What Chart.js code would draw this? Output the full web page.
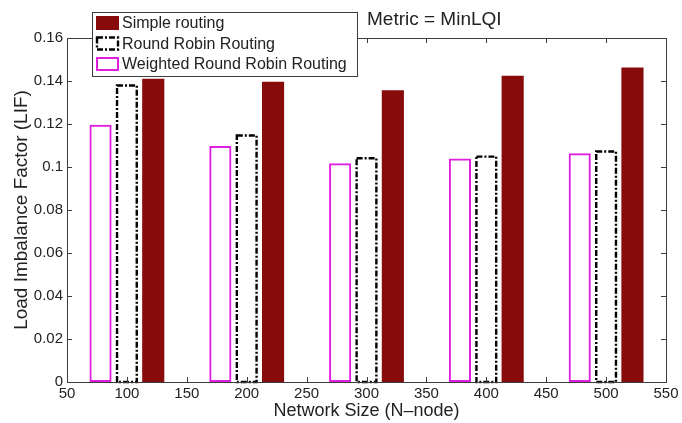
<!DOCTYPE html>
<html>
<head>
<meta charset="utf-8">
<script src="https://cdn.jsdelivr.net/npm/chart.js@4.4.0/dist/chart.umd.min.js"></script>
<style>
  html, body { margin: 0; padding: 0; background: #fff; }
</style>
</head>
<body>
<canvas id="lifChart" width="682" height="423"></canvas>
<script>
// load imbalance factor per network size, one array per routing scheme
const networkSizes = [100, 200, 300, 400, 500];
const simpleRouting = [0.141, 0.1396, 0.1357, 0.1424, 0.1463];
const roundRobin = [0.1385, 0.1152, 0.1046, 0.1054, 0.1078];
const weightedRoundRobin = [0.1196, 0.1098, 0.1018, 0.104, 0.1064];
const seriesNames = ['Simple routing', 'Round Robin Routing', 'Weighted Round Robin Routing'];
const xTicks = [50, 100, 150, 200, 250, 300, 350, 400, 450, 500, 550];
const yTicks = [0, 0.02, 0.04, 0.06, 0.08, 0.1, 0.12, 0.14, 0.16];

const barShift = 22; // x units between bars inside one group
const FONT = "'Liberation Sans', Arial, sans-serif";
const TEXT = '#222';
const AXIS = '#3c3c3c';
const DARK_RED = '#870b0b';
const MAGENTA = '#e01ee0';
const DASH_DOT = [6, 2, 2, 2];

function points(values, shift) {
  return networkSizes.map((n, i) => ({ x: n + shift, y: values[i] }));
}

// chart.js bars can't dash their border, so the round robin outlines are stroked here
const dashedBars = {
  id: 'dashedBars',
  afterDatasetsDraw(chart) {
    const ctx = chart.ctx;
    const meta = chart.getDatasetMeta(1);
    ctx.save();
    ctx.strokeStyle = '#000';
    ctx.lineWidth = 2.4;
    ctx.setLineDash(DASH_DOT);
    meta.data.forEach(bar => {
      const p = bar.getProps(['x', 'y', 'base', 'width'], true);
      const lw = 1.2;
      ctx.strokeRect(p.x - p.width / 2 + lw, p.y + lw, p.width - 2 * lw, p.base - p.y - lw);
    });
    ctx.restore();
  }
};

// box round the plot with inward ticks on all four sides
const axesBox = {
  id: 'axesBox',
  afterDraw(chart) {
    const ctx = chart.ctx;
    const a = chart.chartArea;
    const xs = chart.scales.x, ys = chart.scales.y;
    const len = 5;
    ctx.save();
    ctx.strokeStyle = AXIS;
    ctx.lineWidth = 1;
    ctx.strokeRect(Math.round(a.left) + 0.5, Math.round(a.top) + 0.5,
      Math.round(a.right - a.left), Math.round(a.bottom - a.top));
    ctx.beginPath();
    xs.ticks.forEach((t, i) => {
      const px = Math.round(xs.getPixelForTick(i)) + 0.5;
      ctx.moveTo(px, a.bottom); ctx.lineTo(px, a.bottom - len);
      ctx.moveTo(px, a.top); ctx.lineTo(px, a.top + len);
    });
    ys.ticks.forEach((t, i) => {
      const py = Math.round(ys.getPixelForTick(i)) + 0.5;
      ctx.moveTo(a.left, py); ctx.lineTo(a.left + len, py);
      ctx.moveTo(a.right, py); ctx.lineTo(a.right - len, py);
    });
    ctx.stroke();
    ctx.restore();
  }
};

// legend box in the upper left, overlapping the plot, plus the metric note
const boxLegend = {
  id: 'boxLegend',
  afterDraw(chart) {
    const ctx = chart.ctx;
    const left = 92, top = 12, w = 265, h = 64;
    ctx.save();
    ctx.fillStyle = '#fff';
    ctx.fillRect(left, top, w, h);
    ctx.strokeStyle = AXIS;
    ctx.lineWidth = 1;
    ctx.strokeRect(left + 0.5, top + 0.5, w, h);

    ctx.font = '16px ' + FONT;
    ctx.textBaseline = 'middle';
    chart.data.datasets.forEach((ds, i) => {
      const cy = top + 11 + i * 20.5;
      const sx = 96, sw = 23, sh = 14;
      if (i === 0) {
        ctx.fillStyle = DARK_RED;
        ctx.fillRect(sx, cy - sh / 2, sw, sh);
      } else if (i === 1) {
        ctx.setLineDash(DASH_DOT);
        ctx.strokeStyle = '#000';
        ctx.lineWidth = 2.4;
        ctx.strokeRect(sx + 1, cy - sh / 2 + 1, sw - 2, sh - 2);
        ctx.setLineDash([]);
      } else {
        ctx.strokeStyle = MAGENTA;
        ctx.lineWidth = 2;
        ctx.strokeRect(sx + 1, cy - sh / 2 + 1, sw - 2, sh - 2);
      }
      ctx.fillStyle = TEXT;
      ctx.fillText(ds.label, 122, cy + 1);
    });

    ctx.font = '19px ' + FONT;
    ctx.fillText('Metric = MinLQI', 367, 20);
    ctx.restore();
  }
};

new Chart(document.getElementById('lifChart'), {
  type: 'bar',
  data: {
    datasets: [
      {
        label: seriesNames[0],
        data: points(simpleRouting, barShift),
        backgroundColor: DARK_RED,
        borderColor: DARK_RED,
        borderWidth: 0
      },
      {
        label: seriesNames[1],
        data: points(roundRobin, 0),
        backgroundColor: 'rgba(0,0,0,0)',
        borderWidth: 0
      },
      {
        label: seriesNames[2],
        data: points(weightedRoundRobin, -barShift),
        backgroundColor: 'rgba(0,0,0,0)',
        borderColor: MAGENTA,
        borderWidth: 2,
        borderSkipped: false
      }
    ]
  },
  options: {
    responsive: false,
    animation: false,
    devicePixelRatio: 1,
    grouped: false,
    barPercentage: 0.84,
    categoryPercentage: 1,
    layout: { padding: { top: 38, right: 16, left: 0, bottom: 0 } },
    plugins: {
      legend: { display: false },
      tooltip: { enabled: false }
    },
    scales: {
      x: {
        type: 'linear',
        offset: false,
        min: 50,
        max: 550,
        afterBuildTicks: s => { s.ticks = xTicks.map(v => ({ value: v })); },
        afterFit: s => { s.height = 41; },
        grid: { display: false, drawTicks: false },
        border: { display: true, color: AXIS },
        ticks: { color: TEXT, font: { family: FONT, size: 15 }, padding: 3, maxRotation: 0 },
        title: {
          display: true,
          text: 'Network Size (N–node)',
          color: TEXT,
          font: { family: FONT, size: 18 },
          padding: { top: 0, bottom: 1 }
        }
      },
      y: {
        min: 0,
        max: 0.16,
        afterBuildTicks: s => { s.ticks = yTicks.map(v => ({ value: v })); },
        afterFit: s => { s.width = 67; },
        grid: { display: false, drawTicks: false },
        border: { display: true, color: AXIS },
        ticks: {
          color: TEXT,
          font: { family: FONT, size: 15 },
          padding: 4,
          callback: v => String(+v.toFixed(2))
        },
        title: {
          display: true,
          text: 'Load Imbalance Factor (LIF)',
          color: TEXT,
          font: { family: FONT, size: 19 },
          padding: { top: 10, bottom: 0 }
        }
      }
    }
  },
  plugins: [dashedBars, axesBox, boxLegend]
});
</script>
</body>
</html>
